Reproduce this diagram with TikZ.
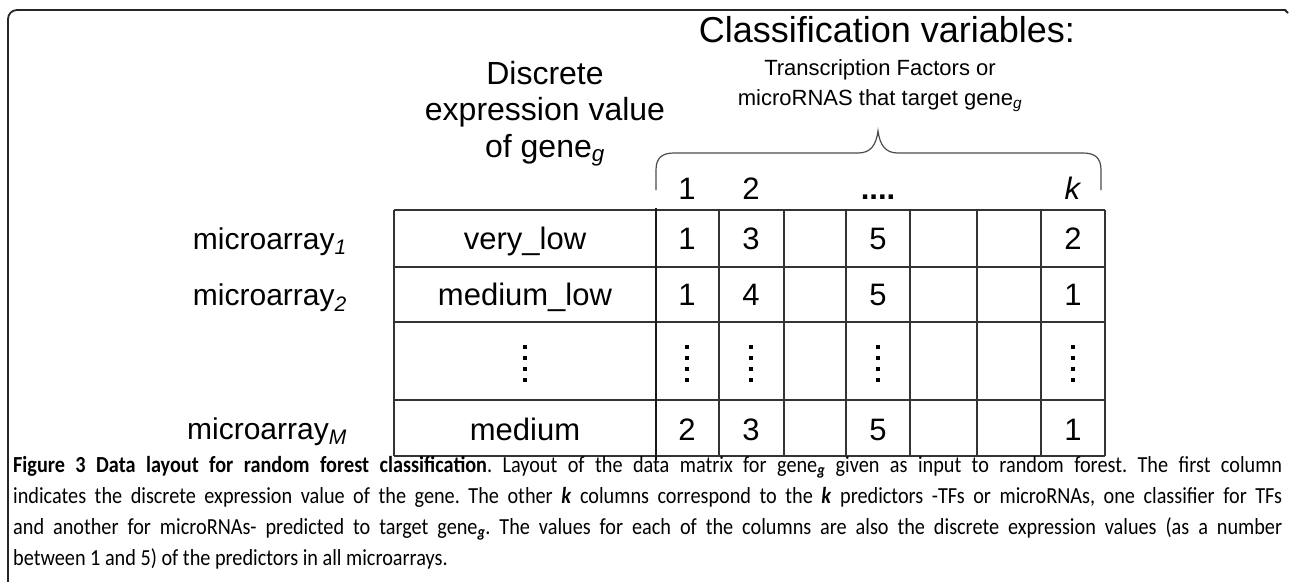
\documentclass[tikz,border=0pt]{standalone}
\usepackage{fontspec}
\setmainfont{Liberation Sans}
\newfontfamily\capfont{Carlito}
\newcommand\capline[1]{\scalebox{0.88}[1]{\makebox[1442pt][s]{#1}}}
\frenchspacing
\begin{document}
\begin{tikzpicture}[x=1pt,y=-1pt,
  gridline/.style={line width=1.3pt, draw=black!80},
  sepline/.style={line width=2.8pt, draw=black!90},
  bracepath/.style={line width=1.2pt, draw=black!70},
  frame/.style={line width=1.8pt, draw=black!85},
  big/.style={inner sep=0pt, font=\fontsize{36}{40}\selectfont},
  mid/.style={inner sep=0pt, font=\fontsize{32}{38}\selectfont},
  rowlab/.style={inner sep=0pt, anchor=base east, font=\fontsize{30}{36}\selectfont},
  small/.style={inner sep=0pt, font=\fontsize{22}{26}\selectfont},
  cell/.style={inner sep=0pt, anchor=base, font=\fontsize{31}{36}\selectfont},
  caption/.style={inner sep=0pt, anchor=base west, font=\capfont\fontsize{23}{28}\selectfont},
  vdot/.style={fill=black}
]
\useasboundingbox (0,0) rectangle (1290,581);
% frame
\draw[frame, rounded corners=9pt] (8,590) -- (8,10) -- (1286,10);
\draw[frame] (1285,10) -- (1288,13);

% header texts
\node[big] (cv) at (887,30) {Classification variables:};
\node[small] (tf) at (880,70) {Transcription Factors or};
\node[small] (mr) at (880,101) {microRNAS that target gene\textsubscript{\textit{g}}};
\node[mid] (d1) at (545,73) {Discrete};
\node[mid] (d2) at (545,112) {expression value};
\node[mid] (d3) at (545,150) {of gene\textsubscript{\textit{g}}};

% brace
\draw[bracepath] (656,190) -- (656,170) .. controls (656,158) and (662,153) .. (674,153) -- (858,153) .. controls (870,153) and (876,146) .. (878,131) .. controls (880,146) and (886,153) .. (898,153) -- (1083,153) .. controls (1095,153) and (1101,158) .. (1101,170) -- (1101,190);

% column headers
\node[cell] (h1) at (687,199) {1};
\node[cell] (h2) at (751,199) {2};
\node[cell] (h4) at (878,199) {\textbf{....}};
\node[cell] (hk) at (1073,199) {\textit{k}};

% table grid
\foreach \y in {210,267,322,400,456} \draw[gridline] (394,\y) -- (1105,\y);
\foreach \x in {394,719,784,846,910,977,1041,1105} \draw[gridline] (\x,210) -- (\x,456);
\draw[sepline] (656,208) -- (656,460);

% row labels
\node[rowlab] (r1) at (347,249) {microarray\textsubscript{\textit{1}}};
\node[rowlab] (r2) at (347,305) {microarray\textsubscript{\textit{2}}};
\node[rowlab] (rM) at (347,439) {microarray\textsubscript{\textit{M}}};

% cells
\node[cell] (c10) at (525,249) {very\_low};
\node[cell] (c20) at (525,305) {medium\_low};
\node[cell] (c40) at (525,440) {medium};
\node[cell] (c11) at (687,249) {1};
\node[cell] (c12) at (751,249) {3};
\node[cell] (c14) at (878,249) {5};
\node[cell] (c1k) at (1073,249) {2};
\node[cell] (c21) at (687,305) {1};
\node[cell] (c22) at (751,305) {4};
\node[cell] (c24) at (878,305) {5};
\node[cell] (c2k) at (1073,305) {1};
\node[cell] (c41) at (687,440) {2};
\node[cell] (c42) at (751,440) {3};
\node[cell] (c44) at (878,440) {5};
\node[cell] (c4k) at (1073,440) {1};

% vertical dots
\foreach \x in {525,687,751,878,1073}
  \foreach \y in {347,358,369,380}
    \fill[vdot] (\x-1.8,\y-1.8) rectangle (\x+1.8,\y+1.8);

% caption
\node[caption] (l1) at (13,472) {\capline{\textbf{Figure 3 Data layout for random forest classification}. Layout of the data matrix for gene\textsubscript{\textbf{\textit{g}}} given as input to random forest. The first column}};
\node[caption] (l2) at (13,503) {\capline{indicates the discrete expression value of the gene. The other \textbf{\textit{k}} columns correspond to the \textbf{\textit{k}} predictors -TFs or microRNAs, one classifier for TFs}};
\node[caption] (l3) at (13,534) {\capline{and another for microRNAs- predicted to target gene\textsubscript{\textbf{\textit{g}}}. The values for each of the columns are also the discrete expression values (as a number}};
\node[caption] (l4) at (13,565) {\scalebox{0.88}[1]{between 1 and 5) of the predictors in all microarrays.}};
\end{tikzpicture}
\end{document}
